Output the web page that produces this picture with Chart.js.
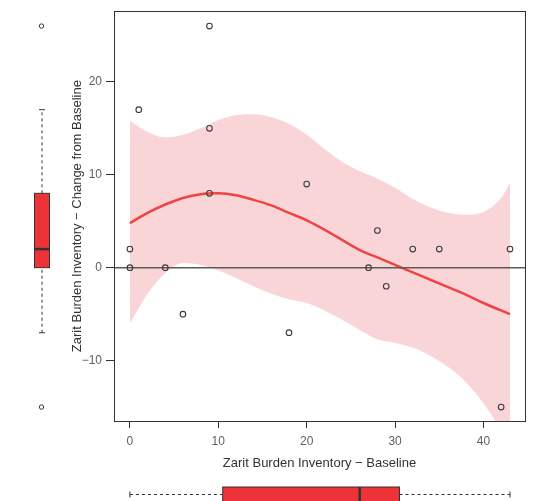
<!DOCTYPE html>
<html>
<head>
<meta charset="utf-8">
<script src="https://cdn.jsdelivr.net/npm/chart.js@4"></script>
<style>
    html, body { margin: 0; padding: 0; background: #fff; }
    #wrap { width: 533px; height: 501px; position: relative; }
</style>
</head>
<body>
<div id="wrap"><canvas id="myChart" width="533" height="501"></canvas></div>
<script>
// points: baseline vs change
const baseline = [0, 0, 1, 4, 6, 9, 9, 9, 18, 20, 27, 28, 29, 32, 35, 42, 43];
const change   = [2, 0, 17, 0, -5, 26, 15, 8, -7, 9, 0, 4, -2, 2, 2, -15, 2];

// loess fit and confidence band
const fitX     = [0, 2, 4, 6, 8, 10, 12, 14, 16, 18, 20, 22, 24, 26, 28, 30, 32, 34, 36, 38, 40, 42, 43];
const fitY     = [4.8, 5.9, 6.8, 7.5, 7.9, 8.0, 7.8, 7.3, 6.7, 5.9, 5.1, 4.1, 3.0, 1.9, 1.1, 0.3, -0.5, -1.3, -2.1, -2.9, -3.8, -4.6, -5.0];
const bandHigh = [15.8, 14.6, 14.0, 14.3, 15.0, 15.9, 16.4, 16.5, 16.2, 15.5, 14.3, 12.8, 11.4, 10.4, 9.6, 8.6, 7.4, 6.5, 5.9, 5.7, 6.0, 7.5, 9.1];
const bandLow  = [-6.0, -2.8, -0.6, 0.5, 0.3, -0.3, -1.1, -2.0, -2.8, -3.4, -3.8, -4.6, -5.6, -6.7, -7.7, -8.1, -8.6, -9.5, -10.7, -12.3, -14.6, -17.5, -19.0];

// marginal boxplots: [low whisker, q1, median, q3, high whisker]
const yBox = [-7, 0, 2, 8, 17];
const yOutliers = [-15, 26];
const xBox = [0, 10.5, 26, 30.5, 43];

const xTicks = [0, 10, 20, 30, 40];
const yTicks = [-10, 0, 10, 20];
const xRange = [-1.8, 44.7];
const yRange = [-16.5, 27.6];

const boxRed = '#ee3338';
const ink = '#333333';

function pts(xs, ys) {
    return xs.map((x, i) => ({ x: x, y: ys[i] }));
}

// R style minus sign on tick labels
function minus(v) {
    return String(v).replace('-', '\u2212');
}

// box around plot + marginal boxplots
const extras = {
    id: 'extras',
    afterDraw(chart) {
        const c = chart.ctx;
        const a = chart.chartArea;
        const sx = chart.scales.x, sy = chart.scales.y;
        c.save();
        c.strokeStyle = ink;
        c.lineWidth = 1;
        c.strokeRect(Math.round(a.left) + 0.5, Math.round(a.top) + 0.5,
            Math.round(a.right - a.left), Math.round(a.bottom - a.top));

        // left boxplot (y values)
        const cx = 42, hw = 7.5;
        let p = yBox.map(v => sy.getPixelForValue(v));
        c.setLineDash([3, 3]);
        c.beginPath();
        c.moveTo(cx, p[0]); c.lineTo(cx, p[1]);
        c.moveTo(cx, p[3]); c.lineTo(cx, p[4]);
        c.stroke();
        c.setLineDash([]);
        c.beginPath();
        c.moveTo(cx - 3, p[0]); c.lineTo(cx + 3, p[0]);
        c.moveTo(cx - 3, p[4]); c.lineTo(cx + 3, p[4]);
        c.stroke();
        c.fillStyle = boxRed;
        c.fillRect(cx - hw, p[3], hw * 2, p[1] - p[3]);
        c.strokeRect(cx - hw, p[3], hw * 2, p[1] - p[3]);
        c.lineWidth = 2.5;
        c.beginPath();
        c.moveTo(cx - hw, p[2]); c.lineTo(cx + hw, p[2]);
        c.stroke();
        c.lineWidth = 1;
        yOutliers.forEach(v => {
            c.beginPath();
            c.arc(cx - 0.5, sy.getPixelForValue(v), 2.2, 0, Math.PI * 2);
            c.stroke();
        });

        // bottom boxplot (x values)
        const cy = 494.5;
        p = xBox.map(v => sx.getPixelForValue(v));
        c.setLineDash([3, 3]);
        c.beginPath();
        c.moveTo(p[0], cy); c.lineTo(p[1], cy);
        c.moveTo(p[3], cy); c.lineTo(p[4], cy);
        c.stroke();
        c.setLineDash([]);
        c.beginPath();
        c.moveTo(p[0], cy - 3); c.lineTo(p[0], cy + 3);
        c.moveTo(p[4], cy - 3); c.lineTo(p[4], cy + 3);
        c.stroke();
        c.fillStyle = boxRed;
        c.fillRect(p[1], cy - hw, p[3] - p[1], hw * 2);
        c.strokeRect(p[1], cy - hw, p[3] - p[1], hw * 2);
        c.lineWidth = 2.5;
        c.beginPath();
        c.moveTo(p[2], cy - hw); c.lineTo(p[2], cy + hw);
        c.stroke();
        c.restore();
    }
};

const ctx = document.getElementById('myChart').getContext('2d');
const chart = new Chart(ctx, {
    type: 'scatter',
    data: {
        datasets: [
            {
                data: pts(baseline, change),
                pointRadius: 2.8,
                pointBorderWidth: 1.1,
                pointBorderColor: '#3a3a3a',
                pointBackgroundColor: 'rgba(0,0,0,0)',
                order: 0
            },
            {
                data: [{ x: xRange[0], y: 0 }, { x: xRange[1], y: 0 }],
                showLine: true,
                borderColor: '#5a5a5a',
                borderWidth: 1.5,
                pointRadius: 0,
                order: 1
            },
            {
                data: pts(fitX, fitY),
                showLine: true,
                borderColor: '#ee4444',
                borderWidth: 2.5,
                pointRadius: 0,
                cubicInterpolationMode: 'monotone',
                order: 2
            },
            {
                data: pts(fitX, bandHigh),
                showLine: true,
                borderWidth: 0,
                borderColor: 'rgba(0,0,0,0)',
                backgroundColor: '#fad5d7',
                fill: '+1',
                pointRadius: 0,
                cubicInterpolationMode: 'monotone',
                order: 3
            },
            {
                data: pts(fitX, bandLow),
                showLine: true,
                borderWidth: 0,
                borderColor: 'rgba(0,0,0,0)',
                pointRadius: 0,
                cubicInterpolationMode: 'monotone',
                order: 4
            }
        ]
    },
    options: {
        responsive: false,
        animation: false,
        layout: { padding: { left: 66, top: 9, right: 8, bottom: 26 } },
        plugins: {
            legend: { display: false },
            tooltip: { enabled: false }
        },
        scales: {
            x: {
                type: 'linear',
                min: xRange[0],
                max: xRange[1],
                afterBuildTicks: s => { s.ticks = xTicks.map(v => ({ value: v })); },
                afterFit: s => { s.height = 54; },
                grid: { drawOnChartArea: false, tickLength: 7, color: ink },
                border: { display: false },
                ticks: { color: '#606060', font: { family: 'Liberation Sans', size: 12 }, padding: 6, callback: minus },
                title: {
                    display: true,
                    text: 'Zarit Burden Inventory \u2212 Baseline',
                    color: ink,
                    font: { family: 'Liberation Sans', size: 13 }
                }
            },
            y: {
                type: 'linear',
                min: yRange[0],
                max: yRange[1],
                afterBuildTicks: s => { s.ticks = yTicks.map(v => ({ value: v })); },
                afterFit: s => { s.width = 48; },
                grid: { drawOnChartArea: false, tickLength: 8, color: ink },
                border: { display: false },
                ticks: { color: '#606060', font: { family: 'Liberation Sans', size: 12 }, padding: 4, callback: minus },
                title: {
                    display: true,
                    text: 'Zarit Burden Inventory \u2212 Change from Baseline',
                    color: ink,
                    font: { family: 'Liberation Sans', size: 13 }
                }
            }
        }
    },
    plugins: [extras]
});
</script>
</body>
</html>
